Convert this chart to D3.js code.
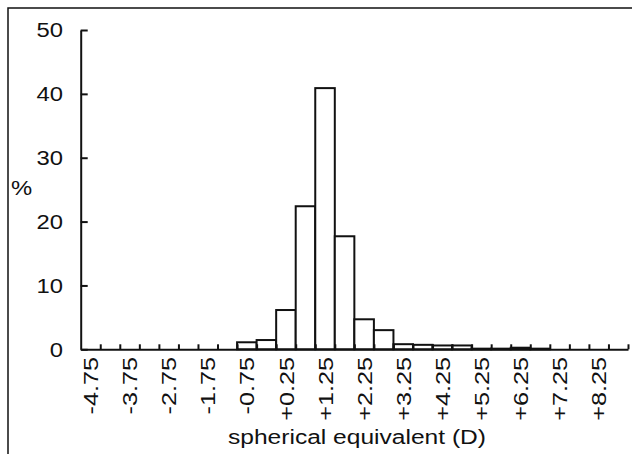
<!DOCTYPE html>
<html>
  <head>
    <style>
      html,
      body {
        margin: 0;
        padding: 0;
        background: #fff;
      }
      svg text {
        font-family: "Liberation Sans", Arial, sans-serif;
        fill: #111;
      }
    </style>
  </head>
  <body>
    <div id="chart"></div>
    <script src="https://d3js.org/d3.v7.min.js"></script>
    <script>
      // bin centres (D), bin width 0.5
      const binCenters = [
        -4.75, -4.25, -3.75, -3.25, -2.75, -2.25, -1.75, -1.25, -0.75, -0.25,
        0.25, 0.75, 1.25, 1.75, 2.25, 2.75, 3.25, 3.75, 4.25, 4.75,
        5.25, 5.75, 6.25, 6.75, 7.25, 7.75, 8.25, 8.75
      ];
      const percents = [
        0, 0, 0, 0, 0, 0, 0, 0, 1.1, 1.45,
        6.15, 22.4, 40.9, 17.7, 4.7, 3.0, 0.8, 0.7, 0.6, 0.6,
        0.1, 0.1, 0.25, 0.1, 0, 0, 0, 0
      ];
      const xLabels = [-4.75, -3.75, -2.75, -1.75, -0.75, 0.25, 1.25, 2.25, 3.25, 4.25, 5.25, 6.25, 7.25, 8.25];
      const yTicks = [0, 10, 20, 30, 40, 50];
      const binWidth = 0.5;

      const width = 633;
      const height = 454;

      const svg = d3
        .select("#chart")
        .append("svg")
        .attr("width", width)
        .attr("height", height);

      // scanned frame (top and left edge only)
      svg.append("path")
        .attr("d", "M8,454V8H632")
        .attr("fill", "none")
        .attr("stroke", "#111")
        .attr("stroke-width", 1.5);

      const x = d3.scaleLinear().domain([-5, 9]).range([80.7, 628]);
      const y = d3.scaleLinear().domain([0, 50]).range([349.3, 30]);

      // bars
      const data = binCenters.map((c, i) => ({ c: c, v: percents[i] }));
      svg.append("g")
        .selectAll("rect")
        .data(data.filter((d) => d.v > 0))
        .join("rect")
        .attr("x", (d) => x(d.c - binWidth / 2))
        .attr("width", (d) => x(d.c + binWidth / 2) - x(d.c - binWidth / 2))
        .attr("y", (d) => y(d.v))
        .attr("height", (d) => y(0) - y(d.v))
        .attr("fill", "#fff")
        .attr("stroke", "#111")
        .attr("stroke-width", 2);

      // x axis: ticks at bin edges, pointing up
      const edges = binCenters.map((c) => c + binWidth / 2);
      const xAxis = svg.append("g")
        .attr("transform", `translate(0,${y(0)})`)
        .call(d3.axisBottom(x).tickValues(edges).tickSize(-5).tickSizeOuter(0).tickFormat(""));
      xAxis.select(".domain").attr("stroke", "#111").attr("stroke-width", 2);
      xAxis.selectAll(".tick line").attr("stroke", "#111").attr("stroke-width", 2);

      // x labels, rotated
      svg.append("g")
        .selectAll("text")
        .data(xLabels)
        .join("text")
        .attr("transform", (d) => `translate(${x(d)},357) rotate(-90) scale(1.2,1)`)
        .attr("text-anchor", "end")
        .attr("dy", "0.36em")
        .attr("font-size", 21)
        .text((d) => (d > 0 ? "+" : "") + d.toFixed(2));

      // y axis: ticks pointing right
      const yAxis = svg.append("g")
        .attr("transform", `translate(80.7,0)`)
        .call(d3.axisLeft(y).tickValues(yTicks).tickSize(-7).tickSizeOuter(0).tickFormat(""));
      yAxis.select(".domain").attr("stroke", "#111").attr("stroke-width", 2);
      yAxis.selectAll(".tick line").attr("stroke", "#111").attr("stroke-width", 2);

      svg.append("g")
        .selectAll("text")
        .data(yTicks)
        .join("text")
        .attr("transform", (d) => `translate(63,${y(d)}) scale(1.19,1)`)
        .attr("text-anchor", "end")
        .attr("dy", "0.36em")
        .attr("font-size", 20)
        .text((d) => d);

      svg.append("text")
        .attr("transform", "translate(11,188) scale(1.19,1)")
        .attr("dy", "0.36em")
        .attr("font-size", 20)
        .text("%");

      svg.append("text")
        .attr("transform", "translate(357,444) scale(1.17,1)")
        .attr("text-anchor", "middle")
        .attr("font-size", 21)
        .text("spherical equivalent (D)");
    </script>
  </body>
</html>
